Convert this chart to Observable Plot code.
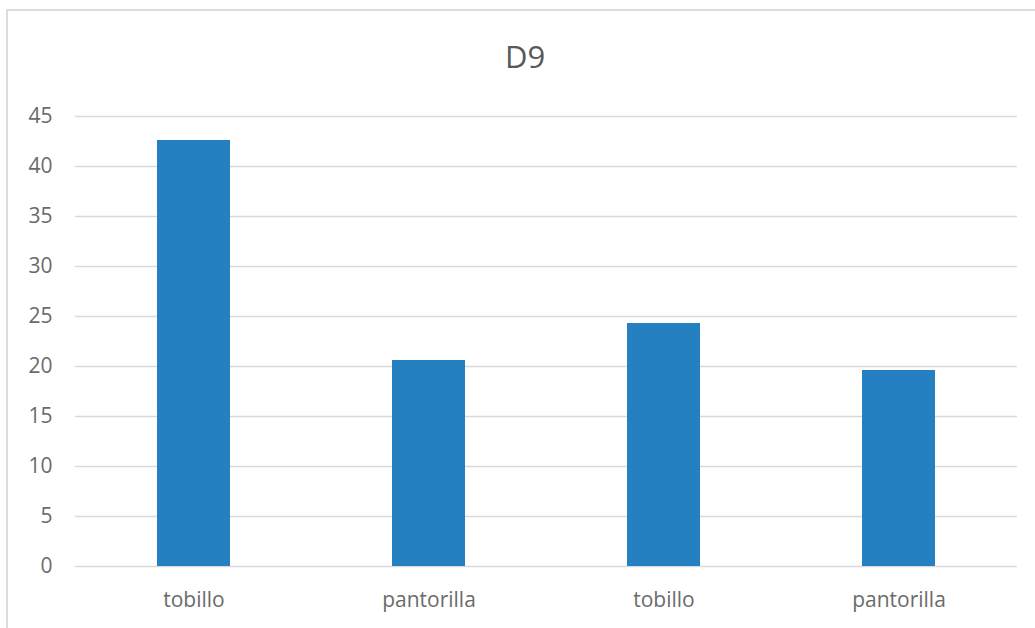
<!DOCTYPE html>
<html>
<head>
<meta charset="utf-8">
<script src="https://cdn.jsdelivr.net/npm/d3@7"></script>
<script src="https://cdn.jsdelivr.net/npm/@observablehq/plot@0.6"></script>
<style>
  html, body { margin: 0; padding: 0; background: #fff; overflow: hidden; }
  #wrap { position: relative; width: 1035px; height: 628px; overflow: hidden; font-family: "Open Sans", sans-serif; }
  #frame { position: absolute; left: 6px; top: 9px; width: 1100px; height: 700px; border: 2px solid #dcdcdc; box-sizing: border-box; }
  #title { position: absolute; left: 0; width: 1050px; top: 34px; text-align: center; font-size: 31px; color: #595959; line-height: 44px; }
  #chart { position: absolute; left: 0; top: 0; }
</style>
</head>
<body>
<div id="wrap">
  <div id="frame"></div>
  <div id="chart"></div>
  <div id="title">D9</div>
</div>
<script>
// Measurements per site
const categories = ["tobillo", "pantorilla", "tobillo", "pantorilla"];
const values = [42.6, 20.6, 24.3, 19.6];
const yTicks = [0, 5, 10, 15, 20, 25, 30, 35, 40, 45];

const rows = categories.map((c, i) => ({key: i, label: c, value: values[i]}));

const chart = Plot.plot({
  width: 1035,
  height: 628,
  marginLeft: 75,
  marginRight: 18,
  marginTop: 116,
  marginBottom: 62,
  style: {fontFamily: "'Open Sans', sans-serif", fontSize: "21px", color: "#6b6b6b", background: "transparent"},
  x: {
    domain: rows.map(d => d.key),
    paddingInner: 0.688,
    paddingOuter: 0.344,
    tickFormat: i => categories[i],
    tickSize: 0,
    tickPadding: 26,
    label: null
  },
  y: {
    domain: [0, 45],
    ticks: yTicks,
    tickSize: 0,
    tickPadding: 23,
    label: null
  },
  marks: [
    Plot.gridY(yTicks, {stroke: "#d9d9d9", strokeOpacity: 1, strokeWidth: 1.6}),
    Plot.barY(rows, {x: "key", y: "value", fill: "#2580c1"})
  ]
});
document.getElementById("chart").appendChild(chart);
</script>
</body>
</html>
